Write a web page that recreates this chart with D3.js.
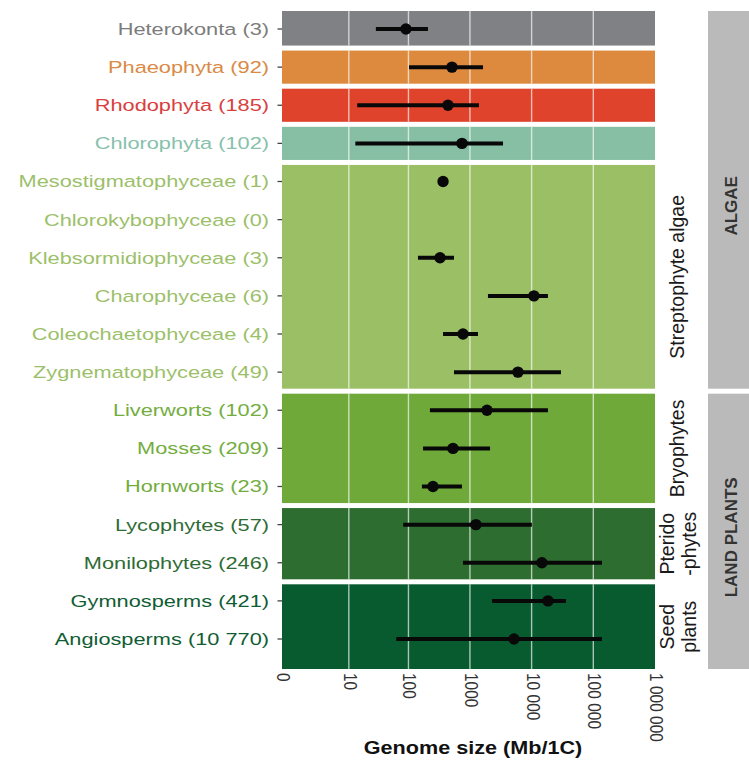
<!DOCTYPE html>
<html><head><meta charset="utf-8">
<script src="https://cdn.jsdelivr.net/npm/d3@7"></script>
<style>html,body{margin:0;padding:0;background:#fff}</style>
</head><body><svg id="chart" width="749" height="762"></svg>
<script>
// ---- data ----
const labels = ["Heterokonta (3)","Phaeophyta (92)","Rhodophyta (185)","Chlorophyta (102)",
  "Mesostigmatophyceae (1)","Chlorokybophyceae (0)","Klebsormidiophyceae (3)","Charophyceae (6)",
  "Coleochaetophyceae (4)","Zygnematophyceae (49)","Liverworts (102)","Mosses (209)","Hornworts (23)",
  "Lycophytes (57)","Monilophytes (246)","Gymnosperms (421)","Angiosperms (10 770)"];
const rowGroup = [0,1,2,3,4,4,4,4,4,4,5,5,5,6,6,7,7];
const medians = [91,511,440,743,366,null,327,10900,771,6000,1890,531,251,1250,14700,18400,5180];
const lows    = [29,102,14,13,null,null,143,1960,366,551,224,173,166,82,771,2280,63];
const highs   = [208,1630,1400,3440,null,null,551,18400,1350,29900,18400,2120,743,10100,138000,36100,138000];

const groupColors     = ["#808184","#dd8a3e","#df432b","#86bfa4","#9bbf64","#6ea93a","#2d6d2f","#075b2f"];
const groupTextColors = ["#7c7c7c","#d98a46","#d8403e","#87c1ab","#9cbf6a","#73ad3f","#2f6c35","#105d33"];
const groupSideLabels = [[],[],[],[],["Streptophyte algae"],["Bryophytes"],["Pterido","-phytes"],["Seed","plants"]];
const superLabels = ["ALGAE","LAND PLANTS"];
const groupSuper  = [0,0,0,0,0,1,1,1];

const tickValues = [0,10,100,1000,10000,100000,1000000];
const tickLabels = ["0","10","100","1000","10 000","100 000","1 000 000"];
const xTitle = "Genome size (Mb/1C)";

// ---- layout ----
const W = 749, H = 762;
const plotL = 282, plotR = 655, plotT = 11, plotB = 669;
const gap = 5;
const svg = d3.select("#chart");
const font = "'Liberation Sans', Arial, Helvetica, sans-serif";

const x = d3.scaleSymlog().constant(0.9).domain([0, 1e6]).range([plotL, plotR]);
const y = d3.scalePoint().domain(labels).range([29, 639]);
const step = y.step();

// panel extents
const nG = groupColors.length;
const panels = d3.range(nG).map(g => {
  const rows = labels.filter((l, i) => rowGroup[i] === g);
  const first = rows[0], last = rows[rows.length - 1];
  const top = g === 0 ? plotT : y(first) - step / 2 + gap / 2;
  const bottom = g === nG - 1 ? plotB : y(last) + step / 2 - gap / 2;
  return {g, top, bottom};
});

// panel backgrounds + gridlines
const pg = svg.append("g");
panels.forEach(p => {
  pg.append("rect").attr("x", plotL).attr("y", p.top).attr("width", plotR - plotL)
    .attr("height", p.bottom - p.top).attr("fill", groupColors[p.g]);
  tickValues.slice(1, -1).forEach(v => {
    pg.append("line").attr("x1", x(v)).attr("x2", x(v)).attr("y1", p.top).attr("y2", p.bottom)
      .attr("stroke", "#ffffff").attr("stroke-opacity", 0.65).attr("stroke-width", 1.4);
  });
});

// error bars and dots
const mg = svg.append("g");
labels.forEach((l, i) => {
  if (lows[i] != null && highs[i] != null) {
    mg.append("line").attr("x1", x(lows[i])).attr("x2", x(highs[i]))
      .attr("y1", y(l)).attr("y2", y(l)).attr("stroke", "#080808").attr("stroke-width", 4);
  }
  if (medians[i] != null) {
    mg.append("circle").attr("cx", x(medians[i])).attr("cy", y(l)).attr("r", 5.7).attr("fill", "#080808");
  }
});

// y labels (stretched horizontally like the original)
const yl = svg.append("g");
labels.forEach((l, i) => {
  yl.append("line").attr("x1", plotL - 4.5).attr("x2", plotL).attr("y1", y(l)).attr("y2", y(l))
    .attr("stroke", "#444").attr("stroke-width", 1.3);
  yl.append("text").attr("transform", `translate(${plotL - 13},${y(l)}) scale(1.32,1)`)
    .attr("text-anchor", "end").attr("dy", "0.36em")
    .attr("font-family", font).attr("font-size", 16.5).attr("fill", groupTextColors[rowGroup[i]])
    .text(l);
});

// x axis labels (rotated)
const xl = svg.append("g");
tickValues.forEach((v, i) => {
  xl.append("text").attr("transform", `translate(${x(v) + 1.5},${plotB + 4}) scale(1.2,1) rotate(90)`)
    .attr("text-anchor", "start").attr("dy", "0.35em")
    .attr("font-family", font).attr("font-size", 15.5).attr("fill", "#333")
    .text(tickLabels[i]);
});
svg.append("text").attr("transform", `translate(473,754) scale(1.2,1)`)
  .attr("text-anchor", "middle").attr("font-family", font).attr("font-weight", "bold")
  .attr("font-size", 18).attr("fill", "#111").text(xTitle);

// side labels for subgroups
const sg = svg.append("g");
panels.forEach(p => {
  const lines = groupSideLabels[p.g];
  if (!lines.length) return;
  const cy = (p.top + p.bottom) / 2;
  const cx0 = lines.length === 1 ? 677 : 667;
  lines.forEach((t, k) => {
    sg.append("text").attr("transform", `translate(${cx0 + k * 22},${cy}) rotate(-90)`)
      .attr("text-anchor", "middle").attr("dy", "0.36em")
      .attr("font-family", font).attr("font-size", 19.5).attr("fill", "#1a1a1a").text(t);
  });
});

// super-group strips
const stripX = 708;
superLabels.forEach((s, si) => {
  const ps = panels.filter(p => groupSuper[p.g] === si);
  const top = d3.min(ps, p => p.top), bottom = d3.max(ps, p => p.bottom);
  svg.append("rect").attr("x", stripX).attr("y", top).attr("width", W - stripX).attr("height", bottom - top)
    .attr("fill", "#bababa");
  svg.append("text").attr("transform", `translate(${(stripX + W) / 2 + 2},${(top + bottom) / 2 + 6}) rotate(-90)`)
    .attr("text-anchor", "middle").attr("dy", "0.36em")
    .attr("font-family", font).attr("font-weight", "bold").attr("font-size", 17).attr("fill", "#333").text(s);
});
</script></body></html>
